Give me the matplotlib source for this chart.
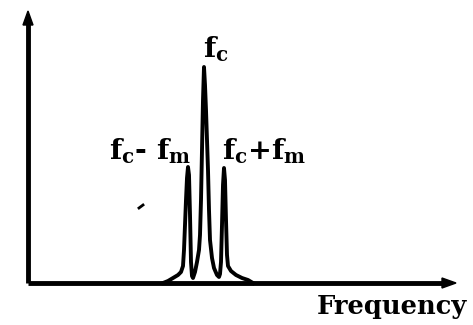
import matplotlib
matplotlib.use("Agg")
import matplotlib.pyplot as plt

plt.rcParams['mathtext.fontset'] = 'dejavuserif'
plt.rcParams['font.family'] = ['DejaVu Serif']

# Spectrum trace (frequency offset, amplitude)
freq = [135, 140, 145, 150, 153, 155, 156, 157, 158, 159, 160, 161, 162, 163, 164, 165,
        167, 169, 171, 172, 173, 174, 175, 176, 177, 178, 179, 180, 181, 182, 184, 186, 189, 191,
        192, 193, 194, 195, 196, 197, 198, 199, 200, 203, 208, 214, 220, 225]
amp = [0, 2, 5, 8, 11, 17, 33, 58, 83, 105, 116, 108, 68, 21, 7, 5,
       11, 21, 33, 48, 83, 133, 183, 216, 198, 173, 143, 113, 73, 43, 25, 15, 8, 6,
       9, 21, 58, 98, 115, 103, 63, 28, 17, 12, 8, 5, 3, 0]

labels = ["$\\mathbf{f_c}$", "$\\mathbf{f_c}$- $\\mathbf{f_m}$", "$\\mathbf{f_c}$+$\\mathbf{f_m}$"]
xlabel = "Frequency"

fig = plt.figure(figsize=(4.73, 3.25), dpi=100)
ax = fig.add_axes([0, 0, 1, 1])
ax.set_xlim(-28, 445)
ax.set_ylim(-42, 283)
ax.axis('off')

# axes with arrows
ax.plot([0, 0], [0, 262], color='black', lw=3.5, solid_capstyle='butt')
ax.plot([0, 418], [0, 0], color='black', lw=3.5, solid_capstyle='butt')
ax.fill([-5, 5, 0], [258, 258, 272], color='black')
ax.fill([414, 414, 428], [-5, 5, 0], color='black')

# spectrum
ax.plot(freq, amp, color='black', lw=2.8, solid_joinstyle='round')
ax.plot([freq[0], freq[-1]], [-1, -1], color='black', lw=1.0)

# stray mark
ax.plot([111, 115], [75, 78], color='black', lw=2)

tk = dict(fontsize=20.5, fontweight='bold', color='black')
ax.text(188, 219, labels[0], ha='center', va='bottom', **tk)
ax.text(122, 117, labels[1], ha='center', va='bottom', **tk)
ax.text(236, 117, labels[2], ha='center', va='bottom', **tk)
ax.text(364, -11, xlabel, ha='center', va='top', fontsize=18.5, fontweight='bold')

fig.savefig("out.png", dpi=100)
